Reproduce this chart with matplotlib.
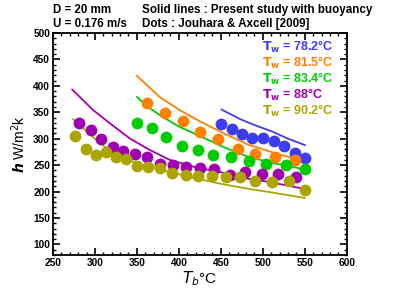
import matplotlib
matplotlib.use("Agg")
import matplotlib.pyplot as plt
from matplotlib.ticker import MultipleLocator

plt.rcParams['font.family'] = ['Liberation Sans', 'DejaVu Sans']

# wall temperatures (legend)
tw_labels = ["78.2", "81.5", "83.4", "88", "90.2"]
colors = ["#3c3cf0", "#ff8000", "#00cc00", "#a000b0", "#aca400"]

# solid lines : present study with buoyancy
line_T = [
    [451, 473, 490, 512, 530, 550],
    [350, 377, 401, 425, 455, 484, 514, 550],
    [350, 365, 377, 400, 425, 455, 484, 515, 550],
    [273, 298, 318, 342, 365, 389, 420, 449, 480, 508, 550],
    [274, 300, 314, 330, 350, 389, 420, 449, 480, 508, 550],
]
line_h = [
    [355, 337, 326, 313, 300, 288],
    [419, 379, 354, 333, 309, 288, 273, 257],
    [379, 358, 345, 323, 305, 283, 265, 253, 242],
    [393, 354, 329, 300, 279, 260, 246, 237, 225, 218, 205],
    [337, 300, 282, 269, 253, 237, 225, 215, 206, 199, 188],
]

# dots : Jouhara & Axcell [2009]
dot_T = [
    [450, 463, 475, 487, 500, 513, 525, 538, 550],
    [362, 383, 405, 425, 447, 470, 491, 515, 538],
    [350, 368, 385, 404, 423, 441, 462, 483, 504, 527, 550],
    [281, 295, 307, 321, 334, 348, 362, 377, 393, 408, 425, 442, 461, 479, 499, 518, 540],
    [276, 289, 301, 313, 325, 337, 350, 363, 377, 392, 408, 423, 440, 456, 473, 491, 511, 531, 550],
]
dot_h = [
    [327, 318, 308, 302, 302, 295, 286, 273, 264],
    [367, 348, 333, 313, 300, 280, 272, 266, 260],
    [330, 320, 303, 286, 278, 270, 265, 258, 253, 250, 242],
    [330, 316, 299, 285, 277, 272, 266, 253, 250, 247, 244, 242, 231, 237, 234, 234, 228],
    [305, 281, 270, 275, 265, 261, 249, 247, 244, 235, 232, 230, 229, 227, 228, 220, 218, 220, 203],
]

fig = plt.figure(figsize=(3.95, 2.96), dpi=100)
ax = fig.add_axes([0.134, 0.1385, 0.744, 0.75])

for i in range(5):
    ax.plot(line_T[i], line_h[i], color=colors[i], lw=1.3, zorder=2)
    ax.plot(dot_T[i], dot_h[i], 'o', color=colors[i], ms=8.5, mec='none', zorder=3)

ax.set_xlim(250, 600)
ax.set_ylim(80, 500)
ax.xaxis.set_major_locator(MultipleLocator(50))
ax.xaxis.set_minor_locator(MultipleLocator(10))
ax.yaxis.set_major_locator(MultipleLocator(50))
ax.yaxis.set_minor_locator(MultipleLocator(10))
ax.set_yticks(range(100, 501, 50))
ax.tick_params(which='both', direction='in', top=True, right=True, width=1.2)
ax.tick_params(which='major', length=5, labelsize=7.3, pad=2)
ax.tick_params(which='minor', length=2.5, width=1)
for lab in ax.get_xticklabels() + ax.get_yticklabels():
    lab.set_fontweight('bold')
for sp in ax.spines.values():
    sp.set_linewidth(1.3)

ax.set_xlabel(r'$\boldsymbol{T_b}$' + '\u00b0C', fontsize=11, labelpad=1)
ax.set_ylabel(r'$\boldsymbol{h}$' + ' W/m$^2$k', fontsize=10, labelpad=4)

# legend texts
for i in range(5):
    ax.text(0.71, 0.937 - i * 0.072, r'$\mathbf{T_w}$' + ' = ' + tw_labels[i] + '\u00b0C',
            transform=ax.transAxes, color=colors[i], fontsize=9, fontweight='bold',
            va='center', ha='left')

fig.text(0.134, 0.965, 'D = 20 mm', fontsize=8.3, fontweight='bold', va='center')
fig.text(0.134, 0.92, 'U = 0.176 m/s', fontsize=8.3, fontweight='bold', va='center')
fig.text(0.36, 0.965, 'Solid lines : Present study with buoyancy', fontsize=8.4,
         fontweight='bold', va='center')
fig.text(0.36, 0.92, 'Dots : Jouhara & Axcell [2009]', fontsize=8.4,
         fontweight='bold', va='center')

fig.savefig('out.png', dpi=100)
